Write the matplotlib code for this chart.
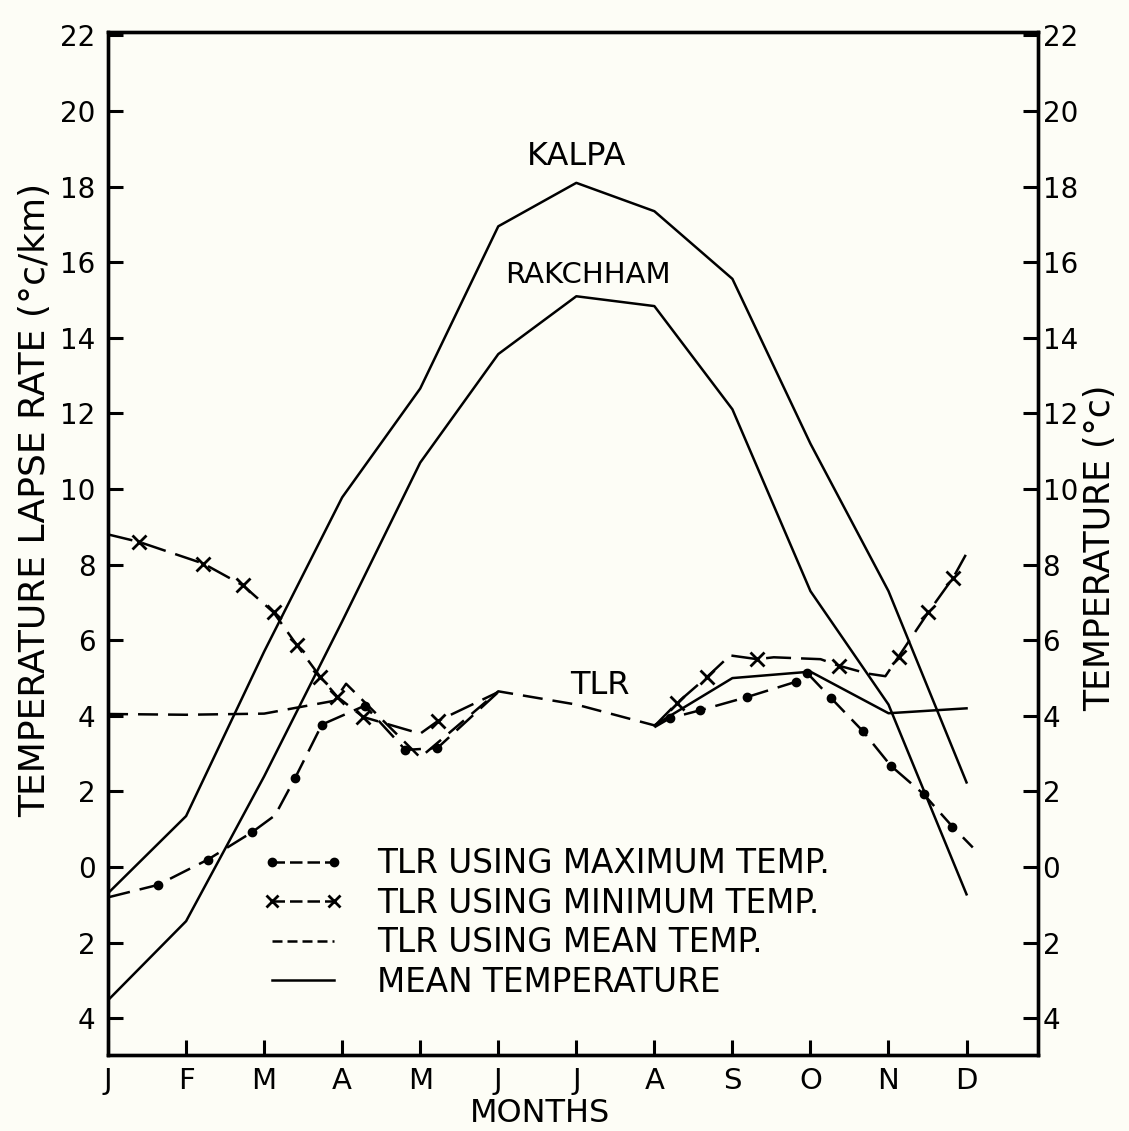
import numpy as np
import matplotlib.pyplot as plt
from matplotlib.lines import Line2D

months = ['J', 'F', 'M', 'A', 'M', 'J', 'J', 'A', 'S', 'O', 'N', 'D']
month_pos = np.arange(12)

# mean monthly temperature (deg C)
kalpa = [-0.69, 1.35, 5.7, 9.78, 12.66, 16.95, 18.1, 17.35, 15.56, 11.2, 7.3, 2.24]
rakchham = [-3.52, -1.43, 2.4, 6.5, 10.7, 13.57, 15.1, 14.84, 12.11, 7.3, 4.3, -0.72]

# TLR using mean temp (dashed part J..A, solid part A..D)
tlr_mean_x = [0, 1, 2, 2.9, 3.05, 4, 5, 6, 7]
tlr_mean = [4.05, 4.03, 4.06, 4.4, 4.85, 2.9, 4.65, 4.3, 3.75]
tlr_mean2_x = [7, 8, 9, 10, 11]
tlr_mean2 = [3.75, 5.0, 5.17, 4.07, 4.2]

# TLR using maximum temp (hand drawn, points along the curve)
tlr_max_x = [0, 0.64, 1.28, 1.85, 2.14, 2.4, 2.74, 3.29, 3.81, 4.22, 5.0, np.nan,
             7.0, 7.2, 7.59, 8.19, 8.81, 8.96, 9.26, 9.67, 10.03, 10.45, 10.82, 11.08]
tlr_max = [-0.8, -0.47, 0.2, 0.93, 1.37, 2.37, 3.77, 4.27, 3.1, 3.15, 4.63, np.nan,
           3.7, 3.94, 4.15, 4.5, 4.9, 5.13, 4.48, 3.6, 2.68, 1.93, 1.07, 0.52]
max_marks = [1, 2, 3, 5, 6, 7, 8, 9, 13, 14, 15, 16, 17, 18, 19, 20, 21, 22]

# TLR using minimum temp
tlr_min_x = [0, 0.4, 1.22, 1.73, 2.12, 2.42, 2.72, 2.94, 3.27, 4.0, 4.23, 5.0, np.nan,
             7.0, 7.29, 7.68, 7.97, 8.32, 8.53, 9.13, 9.36, 9.73, 9.96, 10.13, 10.51, 10.83, 10.99]
tlr_min = [8.8, 8.6, 8.03, 7.45, 6.74, 5.87, 5.03, 4.5, 3.97, 3.53, 3.87, 4.63, np.nan,
           3.73, 4.34, 5.04, 5.6, 5.5, 5.55, 5.5, 5.33, 5.12, 5.05, 5.57, 6.74, 7.66, 8.26]
min_marks = [1, 2, 3, 4, 5, 6, 7, 8, 10, 14, 15, 17, 20, 23, 24, 25]

yticks = [22, 20, 18, 16, 14, 12, 10, 8, 6, 4, 2, 0, -2, -4]

bg = '#fdfdf6'
fs = 20
plt.rcParams['font.family'] = 'DejaVu Sans'

fig = plt.figure(figsize=(11.29, 11.31), dpi=100, facecolor=bg)
ax = fig.add_axes([0.0957, 0.0672, 0.824, 0.9045], facecolor=bg)

lw = 1.8
ax.plot(month_pos, kalpa, color='black', lw=lw)
ax.plot(month_pos, rakchham, color='black', lw=lw)
ax.plot(tlr_mean_x, tlr_mean, color='black', lw=lw, dashes=(8, 4))
ax.plot(tlr_mean2_x, tlr_mean2, color='black', lw=lw)
ax.plot(tlr_max_x, tlr_max, color='black', lw=lw, dashes=(9, 4),
        marker='o', markersize=6, markevery=max_marks)
ax.plot(tlr_min_x, tlr_min, color='black', lw=lw, dashes=(10, 4),
        marker='x', markersize=10, markeredgewidth=2, markevery=min_marks)

ax.text(6.0, 18.8, 'KALPA', fontsize=23, ha='center', va='center')
ax.text(6.15, 15.65, 'RAKCHHAM', fontsize=21, ha='center', va='center')
ax.text(6.3, 4.8, 'TLR', fontsize=23, ha='center', va='center')

ax.set_xlim(0, 11.92)
ax.set_ylim(-4.97, 22.09)
ax.set_xticks(month_pos)
ax.set_xticklabels(months, fontsize=21)
ax.set_yticks(yticks)
ax.set_yticklabels([str(abs(v)) for v in yticks], fontsize=fs)
ax.tick_params(axis='both', which='both', direction='in', length=11, width=2.2,
               right=False, top=False)
ax.tick_params(axis='x', pad=9)
ax.tick_params(axis='y', pad=9)
for s in ax.spines.values():
    s.set_linewidth(2.4)

ax2 = ax.twinx()
ax2.set_ylim(ax.get_ylim())
ax2.set_yticks(yticks)
ax2.set_yticklabels([str(abs(v)) for v in yticks], fontsize=fs)
ax2.tick_params(axis='y', which='both', direction='in', length=11, width=2.2, pad=3,
                left=False, right=True)
for s in ax2.spines.values():
    s.set_linewidth(2.4)

handles = [
    Line2D([], [], color='black', lw=lw, dashes=(5, 2), marker='o', markersize=6),
    Line2D([], [], color='black', lw=lw, dashes=(5, 2), marker='x', markersize=9, markeredgewidth=2),
    Line2D([], [], color='black', lw=lw, dashes=(4, 2)),
    Line2D([], [], color='black', lw=lw),
]
labels = ['TLR USING MAXIMUM TEMP.', 'TLR USING MINIMUM TEMP.',
          'TLR USING MEAN TEMP.', 'MEAN TEMPERATURE']
ax.legend(handles, labels, loc='upper left', bbox_to_anchor=(0.166, 0.203),
          frameon=False, prop={'size': 23.5}, handlelength=2.5,
          handletextpad=1.0, labelspacing=0.2, borderpad=0, borderaxespad=0,
          numpoints=2)

fig.text(35 / 1129, 1 - 500 / 1131, 'TEMPERATURE LAPSE RATE (°c/km)', rotation=90,
         fontsize=26, ha='center', va='center')
fig.text(1100 / 1129, 1 - 548 / 1131, 'TEMPERATURE (°c)', rotation=90,
         fontsize=25, ha='center', va='center')
fig.text(540 / 1129, 1 - 1113 / 1131, 'MONTHS', fontsize=23,
         ha='center', va='center')

fig.savefig('out.png', dpi=100, facecolor=bg)
